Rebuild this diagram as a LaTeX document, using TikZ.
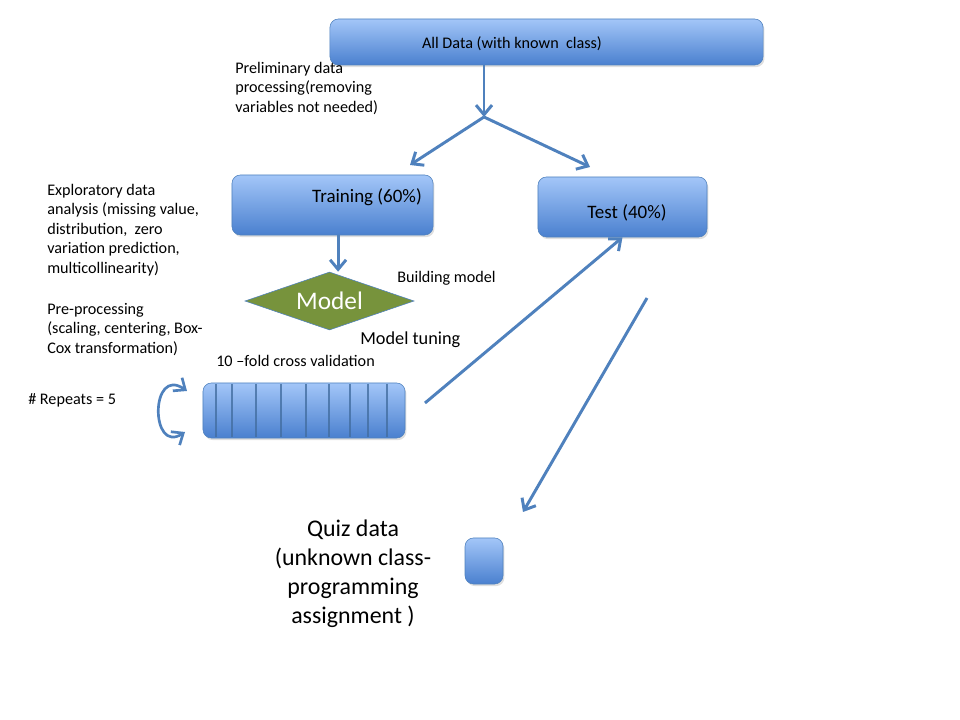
\documentclass[tikz,border=0pt]{standalone}
\usepackage{fontspec}
\setmainfont{Carlito}
\usetikzlibrary{positioning,shapes.geometric,arrows.meta,shadows}
\definecolor{boxtop}{HTML}{A3C6F8}
\definecolor{boxbot}{HTML}{4A80CF}
\definecolor{boxline}{HTML}{4F81BD}
\definecolor{modelgreen}{HTML}{77933C}
\tikzset{databox/.style={draw=boxline,rounded corners=6pt,top color=boxtop,bottom color=boxbot,inner sep=0pt,
    drop shadow={shadow xshift=1pt,shadow yshift=-1.5pt,opacity=0.25}},
  note/.style={align=left,anchor=north west,inner sep=0pt,font=\fontsize{11.5}{13.8}\selectfont},
  label/.style={inner sep=0pt,font=\fontsize{11.5}{13.8}\selectfont},
  boxlabel/.style={inner sep=0pt,font=\fontsize{13.5}{16}\selectfont},
  flow/.style={draw=boxline,line width=2.1pt,->},
  foldline/.style={draw=boxline!85!black,line width=1.8pt,opacity=0.8}}

\begin{document}
\begin{tikzpicture}[x=0.025cm,y=-0.025cm,>={Straight Barb[length=2.4mm,width=4mm]}]
    \useasboundingbox (0,0) rectangle (960,720);

    % boxes
    \node[databox,minimum width=10.825cm,minimum height=1.15cm] (all) at (546.5,42) {};
    \node[databox,minimum width=5.025cm,minimum height=1.5cm] (train) at (332.5,205) {};
    \node[databox,minimum width=4.225cm,minimum height=1.5cm] (test) at (622.5,207) {};
    \node[diamond,shape aspect=2.9,draw=boxline,fill=modelgreen,minimum width=4.225cm,minimum height=1.45cm,
          inner sep=0pt,text=white,font=\fontsize{18}{20}\selectfont] (model) at (329.5,301) {Model};
    \node[databox,minimum width=5.05cm,minimum height=1.375cm] (folds) at (304,410.5) {};
    \node[databox,minimum width=0.95cm,minimum height=1.15cm] (quizbox) at (484,561) {};

    % fold separators
    \foreach \fx in {216,232,256,281,306,329,350,368,387}
        \draw[foldline] (\fx,384) -- (\fx,437);

    % box texts
    \node[label] (alltxt) at (512,44) {All Data (with known~ class)};
    \node[boxlabel] (traintxt) at (367,197) {Training (60\%)};
    \node[boxlabel] (testtxt) at (627,213) {Test (40\%)};

    % side notes
    \node[note] (prelim) at (235,62) {Preliminary data\\processing(removing\\variables not needed)};
    \node[note] (explore) at (47,184) {Exploratory data\\analysis (missing value,\\distribution,~ zero\\variation prediction,\\multicollinearity)};
    \node[note] (preproc) at (47,303) {Pre-processing\\(scaling, centering, Box-\\Cox transformation)};
    \node[label,anchor=west] (build) at (397,278) {Building model};
    \node[label,anchor=west,font=\fontsize{13}{15}\selectfont] (tuning) at (360,340) {Model tuning};
    \node[label,anchor=west] (cvtxt) at (216,361) {10 --fold cross validation};
    \node[label,anchor=west] (repeats) at (28,400) {\# Repeats = 5};
    \node[align=center,inner sep=0pt,font=\fontsize{17}{20.6}\selectfont] (quiz) at (353,574)
        {Quiz data\\(unknown class-\\programming\\assignment )};

    % connectors
    \coordinate (split) at (484,117);
    \coordinate (toleft) at (410,165);
    \coordinate (toright) at (590,167);
    \coordinate (cvout) at (425,403);
    \coordinate (testout) at (647,298);
    \coordinate (quizin) at (523,512);
    \coordinate (cyctop) at (187,391);
    \coordinate (cycbot) at (185,432);

    \draw[flow] (all.south -| split) -- (split);
    \draw[flow] (split) -- (toleft);
    \draw[flow] (split) -- (toright);
    \draw[flow] ([xshift=0.14cm]train.south) -- ([xshift=0.14cm]train.south |- model.north);
    \draw[flow] (cvout) -- (test.south);
    \draw[flow] (testout) -- (quizin);
    \draw[flow,<->,line width=1.9pt] (cyctop) .. controls (150,365) and (150,455) .. (cycbot);
\end{tikzpicture}
\end{document}
